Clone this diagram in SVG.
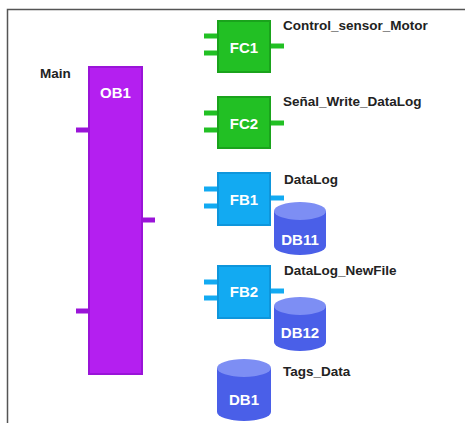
<svg xmlns="http://www.w3.org/2000/svg" width="465" height="423" viewBox="0 0 465 423">
<style>
.lbl{font-family:"Liberation Sans",Arial,sans-serif;font-weight:bold;font-size:13.5px;fill:#222}
.blk{font-family:"Liberation Sans",Arial,sans-serif;font-weight:bold;font-size:15px;fill:#fff;text-anchor:middle}
.ob{fill:#b41ff0;stroke:#9a14d8;stroke-width:2}
.fc{fill:#22c024;stroke:#1aa31c;stroke-width:2}
.fb{fill:#12aaf2;stroke:#0e96dc;stroke-width:2}
.obs{stroke:#9a14d8;stroke-width:5}
.fcs{stroke:#22c024;stroke-width:5}
.fbs{stroke:#12aaf2;stroke-width:5}
.dbb{fill:#4a5fe8}
.dbt{fill:#7d8ef4}
</style>
<rect width="465" height="423" fill="#fff"/>
<path d="M7.5 423V9.5H465" fill="none" stroke="#555" stroke-width="1.5"/>
<g id="connectors"></g>
<g id="OB1">
<line class="obs" x1="76" y1="130" x2="89" y2="130"/>
<line class="obs" x1="76" y1="311" x2="89" y2="311"/>
<line class="obs" x1="142" y1="220" x2="155" y2="220"/>
<rect class="ob" x="89" y="67" width="53" height="307"/>
<text class="blk" x="115.5" y="98">OB1</text>
<text class="lbl" x="40" y="78">Main</text>
</g>
<g id="FC1">
<line class="fcs" x1="204" y1="36" x2="218" y2="36"/>
<line class="fcs" x1="204" y1="53" x2="218" y2="53"/>
<line class="fcs" x1="270" y1="46" x2="284" y2="46"/>
<rect class="fc" x="218" y="21" width="52" height="51"/>
<text class="blk" x="244" y="53">FC1</text>
<text class="lbl" x="283" y="30">Control_sensor_Motor</text>
</g>
<g id="FC2">
<line class="fcs" x1="204" y1="113" x2="218" y2="113"/>
<line class="fcs" x1="204" y1="130" x2="218" y2="130"/>
<line class="fcs" x1="270" y1="123" x2="284" y2="123"/>
<rect class="fc" x="218" y="97" width="52" height="51"/>
<text class="blk" x="244" y="129">FC2</text>
<text class="lbl" x="283" y="106">Señal_Write_DataLog</text>
</g>
<g id="FB1">
<line class="fbs" x1="204" y1="189" x2="218" y2="189"/>
<line class="fbs" x1="204" y1="206" x2="218" y2="206"/>
<line class="fbs" x1="270" y1="198" x2="284" y2="198"/>
<rect class="fb" x="218" y="173" width="52" height="52"/>
<text class="blk" x="244" y="205">FB1</text>
<text class="lbl" x="284" y="184">DataLog</text>
</g>
<g id="DB11">
<path class="dbb" d="M274 211V246A26 9 0 0 0 326 246V211Z"/>
<ellipse class="dbt" cx="300" cy="211" rx="26" ry="9"/>
<text class="blk" x="300" y="245">DB11</text>
</g>
<g id="FB2">
<line class="fbs" x1="204" y1="282" x2="218" y2="282"/>
<line class="fbs" x1="204" y1="298" x2="218" y2="298"/>
<line class="fbs" x1="270" y1="291" x2="284" y2="291"/>
<rect class="fb" x="218" y="266" width="52" height="52"/>
<text class="blk" x="244" y="297">FB2</text>
<text class="lbl" x="284" y="275">DataLog_NewFile</text>
</g>
<g id="DB12">
<path class="dbb" d="M274 306V342A26 9 0 0 0 326 342V306Z"/>
<ellipse class="dbt" cx="300" cy="306" rx="26" ry="9"/>
<text class="blk" x="300" y="338">DB12</text>
</g>
<g id="DB1">
<path class="dbb" d="M217 368V412A27 9 0 0 0 271 412V368Z"/>
<ellipse class="dbt" cx="244" cy="368" rx="27" ry="9"/>
<text class="blk" x="244" y="405">DB1</text>
<text class="lbl" x="283" y="376">Tags_Data</text>
</g>
</svg>
